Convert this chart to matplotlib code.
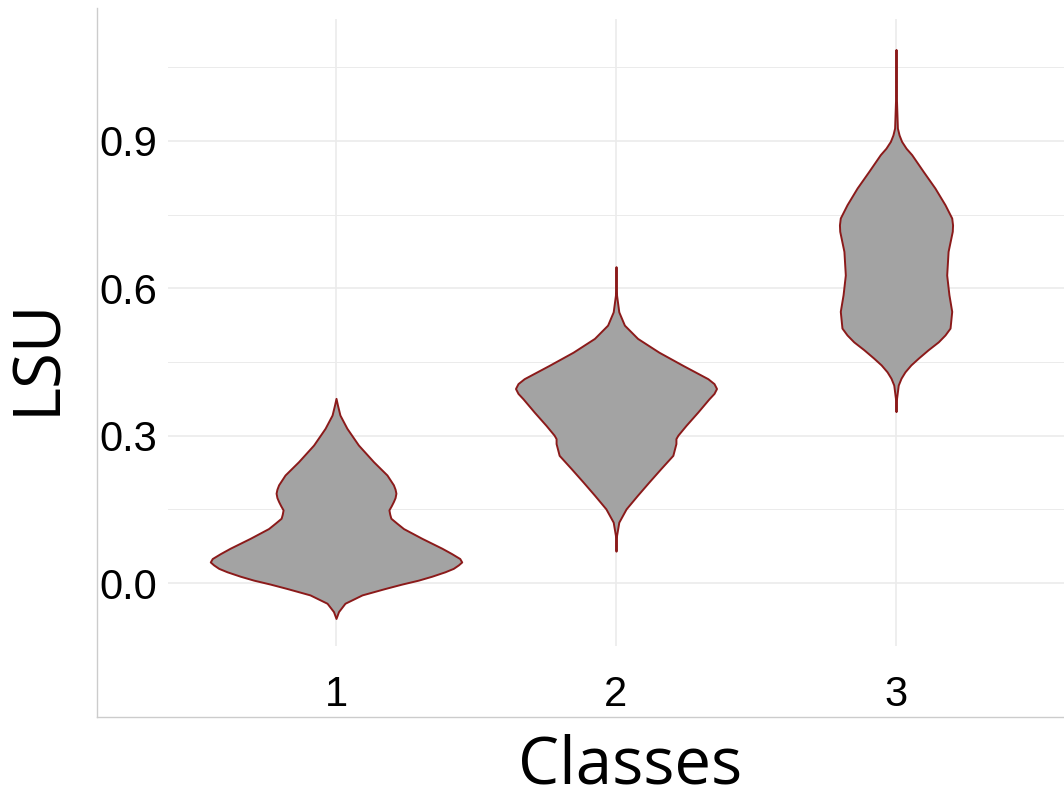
import matplotlib.pyplot as plt
from matplotlib.lines import Line2D

# violin outlines: LSU value and half-width (in class units) for each class
classes = [1, 2, 3]

lsu_1 = [0.376, 0.363, 0.342, 0.315, 0.281, 0.247, 0.220, 0.200, 0.191, 0.183,
         0.174, 0.166, 0.157, 0.149, 0.140, 0.132, 0.122, 0.111, 0.091, 0.071,
         0.060, 0.050, 0.043, 0.037, 0.030, 0.023, 0.014, 0.006, -0.002, -0.011,
         -0.024, -0.041, -0.058, -0.072]
half_1 = [0.0, 0.005, 0.014, 0.039, 0.080, 0.134, 0.182, 0.205, 0.211, 0.214,
          0.211, 0.205, 0.197, 0.189, 0.192, 0.196, 0.217, 0.241, 0.307, 0.378,
          0.413, 0.442, 0.449, 0.437, 0.419, 0.389, 0.342, 0.294, 0.235, 0.175,
          0.093, 0.032, 0.009, 0.0]

lsu_2 = [0.644, 0.586, 0.552, 0.525, 0.498, 0.470, 0.443, 0.416, 0.406, 0.396,
         0.386, 0.375, 0.348, 0.321, 0.301, 0.294, 0.284, 0.260, 0.233, 0.206,
         0.179, 0.151, 0.124, 0.097, 0.065]
half_2 = [0.0, 0.002, 0.010, 0.030, 0.077, 0.153, 0.239, 0.328, 0.350, 0.359,
          0.350, 0.332, 0.292, 0.250, 0.221, 0.214, 0.214, 0.203, 0.160, 0.118,
          0.077, 0.036, 0.010, 0.002, 0.0]

lsu_3 = [1.086, 0.994, 0.926, 0.912, 0.899, 0.885, 0.872, 0.838, 0.804, 0.770,
         0.743, 0.729, 0.716, 0.675, 0.627, 0.587, 0.553, 0.519, 0.505, 0.491,
         0.475, 0.458, 0.444, 0.430, 0.417, 0.403, 0.376, 0.349]
half_3 = [0.0, 0.001, 0.005, 0.011, 0.020, 0.036, 0.056, 0.097, 0.139, 0.175,
          0.199, 0.202, 0.201, 0.186, 0.181, 0.189, 0.199, 0.193, 0.175, 0.151,
          0.115, 0.080, 0.053, 0.032, 0.018, 0.008, 0.002, 0.0]

profiles = [(lsu_1, half_1), (lsu_2, half_2), (lsu_3, half_3)]

y_ticks = [0.0, 0.3, 0.6, 0.9]
y_minor = [0.15, 0.45, 0.75, 1.05]

fig = plt.figure(figsize=(10.64, 7.98), dpi=100)
ax = fig.add_axes([168 / 1064, 1 - 646 / 798, 1 - 168 / 1064, (646 - 19) / 798])

for cls, (ys, hw) in zip(classes, profiles):
    left = [cls - w for w in hw]
    right = [cls + w for w in hw]
    ax.fill_betweenx(ys, left, right, facecolor='#a3a3a3', edgecolor='#8b1a1a',
                     linewidth=1.4, joinstyle='round', zorder=3)

ax.set_xlim(0.4, 3.6)
ax.set_ylim(-0.128, 1.148)
ax.set_xticks(classes)
ax.set_xticklabels([str(c) for c in classes])
ax.set_yticks(y_ticks)
ax.set_yticklabels(['%.1f' % v for v in y_ticks])
ax.set_yticks(y_minor, minor=True)

ax.grid(True, which='major', color='#ebebeb', linewidth=1.2, zorder=0)
ax.grid(True, which='minor', axis='y', color='#ebebeb', linewidth=0.7, zorder=0)
ax.set_axisbelow(True)
for s in ax.spines.values():
    s.set_visible(False)
ax.tick_params(which='both', length=0)
ax.tick_params(axis='y', pad=8)
ax.tick_params(axis='x', pad=21)
for lab in ax.get_xticklabels() + ax.get_yticklabels():
    lab.set_family('Liberation Sans')
    lab.set_fontsize(30)
    lab.set_color('black')

fig.text(630 / 1064, 1 - 767 / 798, 'Classes', family='Open Sans', fontsize=47,
         ha='center', va='center')
fig.text(38 / 1064, 1 - 356 / 798, 'LSU', family='Open Sans', fontsize=47,
         rotation=90, ha='center', va='center')

# thin frame on the left and bottom of the panel area
frame = '#cccccc'
fig.add_artist(Line2D([97 / 1064, 97 / 1064], [1 - 8 / 798, 1 - 717 / 798],
                      color=frame, linewidth=1.0, transform=fig.transFigure))
fig.add_artist(Line2D([97 / 1064, 1.0], [1 - 717 / 798, 1 - 717 / 798],
                      color=frame, linewidth=1.0, transform=fig.transFigure))

fig.savefig('out.png', dpi=100, facecolor='white')
